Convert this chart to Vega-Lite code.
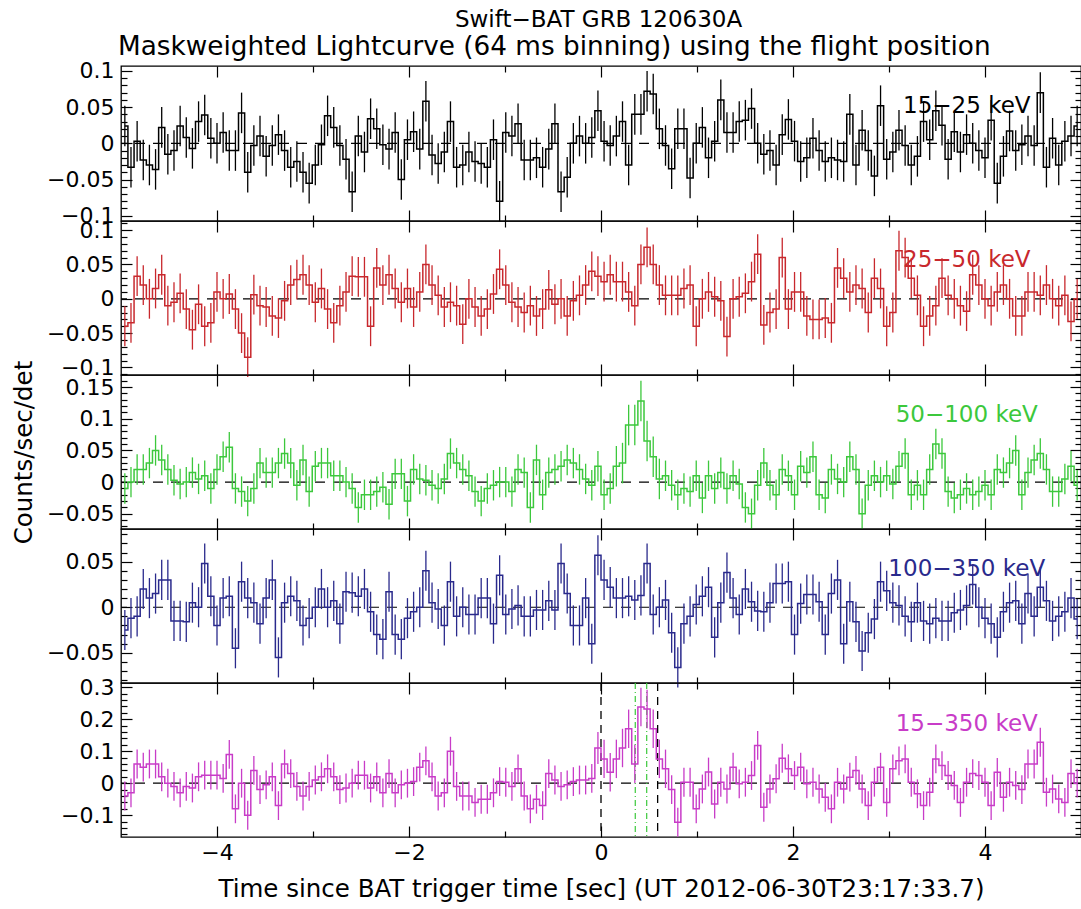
{
"$schema":"https://vega.github.io/schema/vega-lite/v6.json",
"background":"white",
"padding":{"left":10,"top":8,"right":1,"bottom":4},
"config":{
 "view":{"stroke":"black","strokeWidth":1.3},
 "font":"DejaVu Sans",
 "axis":{"domain":false,"grid":false,"tickColor":"black","tickWidth":1.2,"labelFont":"DejaVu Sans","labelFontSize":22,"labelColor":"black","titleFont":"DejaVu Sans","titleFontSize":24.5,"titleFontWeight":"normal","titleColor":"black","labelOverlap":false,"labelFlush":false},
 "title":{"font":"DejaVu Sans","fontSize":23,"fontWeight":"normal","color":"black"}
},
"title":{"text":"Swift−BAT GRB 120630A","anchor":"middle","offset":1,"dx":52},
"data":{"values":[
{"t":-4.96,"a":0.024,"b":-0.04,"c":-0.01,"d":-0.025,"e":-0.04,"ea":0.028,"eb":0.029,"ec":0.024,"ed":0.022,"ee":0.045},
{"t":-4.896,"a":-0.033,"b":-0.035,"c":0,"d":-0.012,"e":-0.03,"ea":0.028,"eb":0.029,"ec":0.024,"ed":0.022,"ee":0.045},
{"t":-4.832,"a":0.003,"b":0.033,"c":0.02,"d":-0.01,"e":0.06,"ea":0.028,"eb":0.029,"ec":0.024,"ed":0.022,"ee":0.045},
{"t":-4.768,"a":-0.023,"b":0.02,"c":0.02,"d":0.02,"e":0.05,"ea":0.028,"eb":0.029,"ec":0.024,"ed":0.022,"ee":0.045},
{"t":-4.704,"a":-0.03,"b":0,"c":0.03,"d":0.01,"e":0.06,"ea":0.028,"eb":0.029,"ec":0.024,"ed":0.022,"ee":0.045},
{"t":-4.64,"a":-0.036,"b":0.015,"c":0.05,"d":0.015,"e":0.06,"ea":0.028,"eb":0.029,"ec":0.024,"ed":0.022,"ee":0.045},
{"t":-4.576,"a":0.022,"b":0.035,"c":0.035,"d":0.03,"e":0.02,"ea":0.028,"eb":0.029,"ec":0.024,"ed":0.022,"ee":0.045},
{"t":-4.512,"a":-0.015,"b":-0.01,"c":0.02,"d":0.03,"e":0,"ea":0.028,"eb":0.029,"ec":0.024,"ed":0.022,"ee":0.045},
{"t":-4.448,"a":-0.01,"b":-0.005,"c":0.003,"d":-0.015,"e":-0.01,"ea":0.028,"eb":0.029,"ec":0.024,"ed":0.022,"ee":0.045},
{"t":-4.384,"a":0.024,"b":0.008,"c":-0.003,"d":-0.015,"e":-0.03,"ea":0.028,"eb":0.029,"ec":0.024,"ed":0.022,"ee":0.045},
{"t":-4.32,"a":0.008,"b":-0.015,"c":0,"d":-0.016,"e":-0.01,"ea":0.028,"eb":0.029,"ec":0.024,"ed":0.022,"ee":0.045},
{"t":-4.256,"a":-0.007,"b":-0.045,"c":0.015,"d":0.005,"e":-0.015,"ea":0.028,"eb":0.029,"ec":0.024,"ed":0.022,"ee":0.045},
{"t":-4.192,"a":0.03,"b":-0.008,"c":0.005,"d":0,"e":0.02,"ea":0.028,"eb":0.029,"ec":0.024,"ed":0.022,"ee":0.045},
{"t":-4.128,"a":0.039,"b":-0.04,"c":0.01,"d":0.048,"e":0.025,"ea":0.028,"eb":0.029,"ec":0.024,"ed":0.022,"ee":0.045},
{"t":-4.064,"a":0.007,"b":-0.035,"c":-0.01,"d":0.012,"e":0.025,"ea":0.028,"eb":0.029,"ec":0.024,"ed":0.022,"ee":0.045},
{"t":-4.0,"a":0,"b":0.01,"c":0.02,"d":-0.02,"e":0.025,"ea":0.028,"eb":0.029,"ec":0.024,"ed":0.022,"ee":0.045},
{"t":-3.936,"a":0.015,"b":0,"c":0.04,"d":0.01,"e":0.015,"ea":0.028,"eb":0.029,"ec":0.024,"ed":0.022,"ee":0.045},
{"t":-3.872,"a":-0.01,"b":0.007,"c":0.055,"d":0.012,"e":0.09,"ea":0.028,"eb":0.029,"ec":0.024,"ed":0.022,"ee":0.045},
{"t":-3.808,"a":-0.01,"b":-0.015,"c":-0.01,"d":-0.045,"e":-0.08,"ea":0.028,"eb":0.029,"ec":0.024,"ed":0.022,"ee":0.045},
{"t":-3.744,"a":0.042,"b":-0.05,"c":-0.015,"d":0.028,"e":0,"ea":0.028,"eb":0.029,"ec":0.024,"ed":0.022,"ee":0.045},
{"t":-3.68,"a":-0.04,"b":-0.085,"c":-0.03,"d":0.01,"e":-0.1,"ea":0.028,"eb":0.029,"ec":0.024,"ed":0.022,"ee":0.045},
{"t":-3.616,"a":-0.003,"b":0.006,"c":-0.01,"d":0.005,"e":0.04,"ea":0.028,"eb":0.029,"ec":0.024,"ed":0.022,"ee":0.045},
{"t":-3.552,"a":0.01,"b":-0.01,"c":0.03,"d":-0.018,"e":-0.02,"ea":0.028,"eb":0.029,"ec":0.024,"ed":0.022,"ee":0.045},
{"t":-3.488,"a":-0.018,"b":-0.012,"c":0.015,"d":0.01,"e":-0.005,"ea":0.028,"eb":0.029,"ec":0.024,"ed":0.022,"ee":0.045},
{"t":-3.424,"a":-0.003,"b":-0.025,"c":0.015,"d":0.03,"e":0.02,"ea":0.028,"eb":0.029,"ec":0.024,"ed":0.022,"ee":0.045},
{"t":-3.36,"a":0.012,"b":-0.028,"c":0.03,"d":-0.055,"e":-0.07,"ea":0.028,"eb":0.029,"ec":0.024,"ed":0.022,"ee":0.045},
{"t":-3.296,"a":-0.01,"b":-0.003,"c":0.045,"d":0.005,"e":0.06,"ea":0.028,"eb":0.029,"ec":0.024,"ed":0.022,"ee":0.045},
{"t":-3.232,"a":-0.033,"b":0.02,"c":0.03,"d":0.012,"e":0.03,"ea":0.028,"eb":0.029,"ec":0.024,"ed":0.022,"ee":0.045},
{"t":-3.168,"a":-0.025,"b":0.028,"c":-0.005,"d":0.007,"e":-0.01,"ea":0.028,"eb":0.029,"ec":0.024,"ed":0.022,"ee":0.045},
{"t":-3.104,"a":-0.04,"b":0.035,"c":0.035,"d":-0.02,"e":-0.04,"ea":0.028,"eb":0.029,"ec":0.024,"ed":0.022,"ee":0.045},
{"t":-3.04,"a":-0.055,"b":0.02,"c":-0.015,"d":-0.012,"e":-0.01,"ea":0.028,"eb":0.029,"ec":0.024,"ed":0.022,"ee":0.045},
{"t":-2.976,"a":-0.03,"b":-0.005,"c":0.025,"d":0,"e":0.01,"ea":0.028,"eb":0.029,"ec":0.024,"ed":0.022,"ee":0.045},
{"t":-2.912,"a":-0.002,"b":0.015,"c":0.03,"d":0.02,"e":0.02,"ea":0.028,"eb":0.029,"ec":0.024,"ed":0.022,"ee":0.045},
{"t":-2.848,"a":0.038,"b":-0.015,"c":0.03,"d":0,"e":0.045,"ea":0.028,"eb":0.029,"ec":0.024,"ed":0.022,"ee":0.045},
{"t":-2.784,"a":0.022,"b":-0.035,"c":0.01,"d":0.007,"e":0.02,"ea":0.028,"eb":0.029,"ec":0.024,"ed":0.022,"ee":0.045},
{"t":-2.72,"a":-0.003,"b":-0.01,"c":0.01,"d":-0.018,"e":-0.02,"ea":0.028,"eb":0.029,"ec":0.024,"ed":0.022,"ee":0.045},
{"t":-2.656,"a":-0.022,"b":0.01,"c":0,"d":0.017,"e":-0.015,"ea":0.028,"eb":0.029,"ec":0.024,"ed":0.022,"ee":0.045},
{"t":-2.592,"a":-0.067,"b":0.033,"c":-0.01,"d":0.016,"e":0,"ea":0.028,"eb":0.029,"ec":0.024,"ed":0.022,"ee":0.045},
{"t":-2.528,"a":0.01,"b":0.032,"c":-0.04,"d":0.012,"e":0.025,"ea":0.028,"eb":0.029,"ec":0.024,"ed":0.022,"ee":0.045},
{"t":-2.464,"a":-0.012,"b":0.032,"c":-0.02,"d":0.02,"e":0.025,"ea":0.028,"eb":0.029,"ec":0.024,"ed":0.022,"ee":0.045},
{"t":-2.4,"a":0.034,"b":-0.04,"c":-0.02,"d":-0.005,"e":-0.015,"ea":0.028,"eb":0.029,"ec":0.024,"ed":0.022,"ee":0.045},
{"t":-2.336,"a":0.02,"b":0.045,"c":-0.015,"d":-0.03,"e":0.02,"ea":0.028,"eb":0.029,"ec":0.024,"ed":0.022,"ee":0.045},
{"t":-2.272,"a":-0.002,"b":0.02,"c":-0.008,"d":-0.035,"e":-0.03,"ea":0.028,"eb":0.029,"ec":0.024,"ed":0.022,"ee":0.045},
{"t":-2.208,"a":-0.008,"b":0.035,"c":-0.035,"d":0.017,"e":0.03,"ea":0.028,"eb":0.029,"ec":0.024,"ed":0.022,"ee":0.045},
{"t":-2.144,"a":0.015,"b":0.015,"c":0.013,"d":-0.03,"e":-0.03,"ea":0.028,"eb":0.029,"ec":0.024,"ed":0.022,"ee":0.045},
{"t":-2.08,"a":-0.05,"b":-0.005,"c":0.013,"d":-0.035,"e":-0.005,"ea":0.028,"eb":0.029,"ec":0.024,"ed":0.022,"ee":0.045},
{"t":-2.016,"a":0.005,"b":0.015,"c":-0.03,"d":-0.012,"e":0,"ea":0.028,"eb":0.029,"ec":0.024,"ed":0.022,"ee":0.045},
{"t":-1.952,"a":0.016,"b":-0.012,"c":0.02,"d":-0.005,"e":0.005,"ea":0.028,"eb":0.029,"ec":0.024,"ed":0.022,"ee":0.045},
{"t":-1.888,"a":-0.008,"b":0.01,"c":0.005,"d":0,"e":0.05,"ea":0.028,"eb":0.029,"ec":0.024,"ed":0.022,"ee":0.045},
{"t":-1.824,"a":0.058,"b":0.05,"c":0.003,"d":0.04,"e":0.07,"ea":0.028,"eb":0.029,"ec":0.024,"ed":0.022,"ee":0.045},
{"t":-1.76,"a":-0.016,"b":0.02,"c":-0.005,"d":0.005,"e":0.02,"ea":0.028,"eb":0.029,"ec":0.024,"ed":0.022,"ee":0.045},
{"t":-1.696,"a":-0.028,"b":0.005,"c":-0.01,"d":-0.002,"e":-0.04,"ea":0.028,"eb":0.029,"ec":0.024,"ed":0.022,"ee":0.045},
{"t":-1.632,"a":-0.012,"b":-0.012,"c":0.005,"d":-0.02,"e":-0.03,"ea":0.028,"eb":0.029,"ec":0.024,"ed":0.022,"ee":0.045},
{"t":-1.568,"a":0.03,"b":-0.005,"c":0.045,"d":0.028,"e":0.1,"ea":0.028,"eb":0.029,"ec":0.024,"ed":0.022,"ee":0.045},
{"t":-1.504,"a":-0.033,"b":-0.01,"c":0.03,"d":-0.01,"e":-0.01,"ea":0.028,"eb":0.029,"ec":0.024,"ed":0.022,"ee":0.045},
{"t":-1.44,"a":-0.03,"b":-0.037,"c":0.02,"d":0,"e":-0.04,"ea":0.028,"eb":0.029,"ec":0.024,"ed":0.022,"ee":0.045},
{"t":-1.376,"a":-0.012,"b":0,"c":0.01,"d":-0.008,"e":-0.04,"ea":0.028,"eb":0.029,"ec":0.024,"ed":0.022,"ee":0.045},
{"t":-1.312,"a":-0.025,"b":-0.012,"c":-0.015,"d":-0.008,"e":-0.06,"ea":0.028,"eb":0.029,"ec":0.024,"ed":0.022,"ee":0.045},
{"t":-1.248,"a":-0.028,"b":-0.025,"c":-0.03,"d":0.01,"e":-0.05,"ea":0.028,"eb":0.029,"ec":0.024,"ed":0.022,"ee":0.045},
{"t":-1.184,"a":-0.033,"b":-0.015,"c":-0.01,"d":0.01,"e":-0.05,"ea":0.028,"eb":0.029,"ec":0.024,"ed":0.022,"ee":0.045},
{"t":-1.12,"a":0.005,"b":0.007,"c":-0.005,"d":-0.018,"e":-0.03,"ea":0.028,"eb":0.029,"ec":0.024,"ed":0.022,"ee":0.045},
{"t":-1.056,"a":-0.08,"b":0.043,"c":0,"d":0.035,"e":0.005,"ea":0.028,"eb":0.029,"ec":0.024,"ed":0.022,"ee":0.045},
{"t":-0.992,"a":0.015,"b":0.02,"c":0,"d":-0.008,"e":0.003,"ea":0.028,"eb":0.029,"ec":0.024,"ed":0.022,"ee":0.045},
{"t":-0.928,"a":0.01,"b":-0.005,"c":-0.015,"d":-0.002,"e":-0.01,"ea":0.028,"eb":0.029,"ec":0.024,"ed":0.022,"ee":0.045},
{"t":-0.864,"a":0.027,"b":-0.012,"c":0.02,"d":0.002,"e":0.045,"ea":0.028,"eb":0.029,"ec":0.024,"ed":0.022,"ee":0.045},
{"t":-0.8,"a":-0.023,"b":-0.02,"c":0.015,"d":-0.01,"e":-0.04,"ea":0.028,"eb":0.029,"ec":0.024,"ed":0.022,"ee":0.045},
{"t":-0.736,"a":-0.023,"b":-0.01,"c":-0.04,"d":-0.01,"e":-0.08,"ea":0.028,"eb":0.029,"ec":0.024,"ed":0.022,"ee":0.045},
{"t":-0.672,"a":-0.02,"b":-0.025,"c":0.035,"d":-0.003,"e":-0.05,"ea":0.028,"eb":0.029,"ec":0.024,"ed":0.022,"ee":0.045},
{"t":-0.608,"a":-0.033,"b":-0.015,"c":-0.02,"d":-0.003,"e":-0.07,"ea":0.028,"eb":0.029,"ec":0.024,"ed":0.022,"ee":0.045},
{"t":-0.544,"a":-0.008,"b":0.013,"c":0.015,"d":0.007,"e":0.03,"ea":0.028,"eb":0.029,"ec":0.024,"ed":0.022,"ee":0.045},
{"t":-0.48,"a":0.027,"b":-0.008,"c":0.02,"d":-0.003,"e":0.01,"ea":0.028,"eb":0.029,"ec":0.024,"ed":0.022,"ee":0.045},
{"t":-0.416,"a":-0.067,"b":0,"c":0.025,"d":0.048,"e":-0.01,"ea":0.028,"eb":0.029,"ec":0.024,"ed":0.022,"ee":0.045},
{"t":-0.352,"a":-0.047,"b":-0.025,"c":0.035,"d":0.015,"e":-0.005,"ea":0.028,"eb":0.029,"ec":0.024,"ed":0.022,"ee":0.045},
{"t":-0.288,"a":0,"b":-0.003,"c":0.03,"d":-0.02,"e":0.005,"ea":0.028,"eb":0.029,"ec":0.024,"ed":0.022,"ee":0.045},
{"t":-0.224,"a":0.01,"b":0.005,"c":0.02,"d":-0.02,"e":0.01,"ea":0.028,"eb":0.029,"ec":0.024,"ed":0.022,"ee":0.045},
{"t":-0.16,"a":0,"b":0.02,"c":0.005,"d":0.01,"e":0.01,"ea":0.028,"eb":0.029,"ec":0.024,"ed":0.022,"ee":0.045},
{"t":-0.096,"a":0.008,"b":0.04,"c":-0.005,"d":-0.04,"e":0.015,"ea":0.028,"eb":0.029,"ec":0.024,"ed":0.022,"ee":0.045},
{"t":-0.032,"a":0.045,"b":0.033,"c":0.025,"d":0.057,"e":0.11,"ea":0.028,"eb":0.029,"ec":0.024,"ed":0.022,"ee":0.05},
{"t":0.032,"a":0.003,"b":0.025,"c":-0.02,"d":0.03,"e":0.076,"ea":0.028,"eb":0.029,"ec":0.024,"ed":0.022,"ee":0.06},
{"t":0.096,"a":-0.003,"b":0.035,"c":-0.01,"d":0.022,"e":0.034,"ea":0.028,"eb":0.029,"ec":0.024,"ed":0.022,"ee":0.06},
{"t":0.16,"a":0.01,"b":0.025,"c":0.025,"d":0.01,"e":0.076,"ea":0.028,"eb":0.029,"ec":0.032,"ed":0.022,"ee":0.06},
{"t":0.224,"a":0.03,"b":0.025,"c":0.03,"d":0.01,"e":0.11,"ea":0.028,"eb":0.029,"ec":0.032,"ed":0.022,"ee":0.06},
{"t":0.288,"a":-0.03,"b":0.01,"c":0.09,"d":0.012,"e":0.17,"ea":0.028,"eb":0.029,"ec":0.032,"ed":0.022,"ee":0.06},
{"t":0.352,"a":0.04,"b":-0.01,"c":0.09,"d":0.008,"e":0.06,"ea":0.028,"eb":0.029,"ec":0.032,"ed":0.022,"ee":0.06},
{"t":0.416,"a":0.04,"b":0.05,"c":0.128,"d":0.013,"e":0.238,"ea":0.028,"eb":0.029,"ec":0.032,"ed":0.022,"ee":0.06},
{"t":0.48,"a":0.072,"b":0.075,"c":0.065,"d":0.048,"e":0.232,"ea":0.028,"eb":0.029,"ec":0.032,"ed":0.022,"ee":0.06},
{"t":0.544,"a":0.068,"b":0.05,"c":0.04,"d":-0.008,"e":0.17,"ea":0.028,"eb":0.029,"ec":0.032,"ed":0.022,"ee":0.06},
{"t":0.608,"a":0.02,"b":0.02,"c":0.005,"d":0,"e":0.076,"ea":0.028,"eb":0.029,"ec":0.032,"ed":0.022,"ee":0.06},
{"t":0.672,"a":-0.003,"b":0.005,"c":0.01,"d":0.008,"e":0.045,"ea":0.028,"eb":0.029,"ec":0.024,"ed":0.022,"ee":0.06},
{"t":0.736,"a":-0.035,"b":0.005,"c":-0.005,"d":-0.028,"e":-0.02,"ea":0.028,"eb":0.029,"ec":0.024,"ed":0.022,"ee":0.045},
{"t":0.8,"a":0.02,"b":0.005,"c":-0.02,"d":-0.066,"e":-0.122,"ea":0.028,"eb":0.029,"ec":0.024,"ed":0.022,"ee":0.045},
{"t":0.864,"a":0.02,"b":0.015,"c":-0.01,"d":-0.018,"e":0.003,"ea":0.028,"eb":0.029,"ec":0.024,"ed":0.022,"ee":0.045},
{"t":0.928,"a":-0.048,"b":0.02,"c":-0.015,"d":-0.01,"e":0.003,"ea":0.028,"eb":0.029,"ec":0.024,"ed":0.022,"ee":0.045},
{"t":0.992,"a":0,"b":-0.04,"c":0.01,"d":0.003,"e":-0.08,"ea":0.028,"eb":0.029,"ec":0.024,"ed":0.022,"ee":0.045},
{"t":1.056,"a":0.022,"b":0,"c":-0.025,"d":0.012,"e":-0.018,"ea":0.028,"eb":0.029,"ec":0.024,"ed":0.022,"ee":0.045},
{"t":1.12,"a":-0.02,"b":0.01,"c":0.01,"d":0.022,"e":0.035,"ea":0.028,"eb":0.029,"ec":0.024,"ed":0.022,"ee":0.045},
{"t":1.184,"a":0.003,"b":0.003,"c":-0.01,"d":-0.033,"e":-0.065,"ea":0.028,"eb":0.029,"ec":0.024,"ed":0.022,"ee":0.045},
{"t":1.248,"a":0.06,"b":-0.003,"c":0.015,"d":0.005,"e":0.003,"ea":0.028,"eb":0.029,"ec":0.024,"ed":0.022,"ee":0.045},
{"t":1.312,"a":0.015,"b":-0.055,"c":-0.01,"d":0.038,"e":-0.018,"ea":0.028,"eb":0.029,"ec":0.024,"ed":0.022,"ee":0.045},
{"t":1.376,"a":0.015,"b":0,"c":0.01,"d":0.01,"e":0.05,"ea":0.028,"eb":0.029,"ec":0.024,"ed":0.022,"ee":0.045},
{"t":1.44,"a":0.03,"b":0.003,"c":-0.003,"d":-0.008,"e":-0.002,"ea":0.028,"eb":0.029,"ec":0.024,"ed":0.022,"ee":0.045},
{"t":1.504,"a":0.032,"b":0.008,"c":-0.04,"d":0.02,"e":0.003,"ea":0.028,"eb":0.029,"ec":0.024,"ed":0.022,"ee":0.045},
{"t":1.568,"a":0.048,"b":0.025,"c":-0.05,"d":0.006,"e":0.024,"ea":0.028,"eb":0.029,"ec":0.024,"ed":0.022,"ee":0.045},
{"t":1.632,"a":0,"b":0.065,"c":-0.005,"d":-0.004,"e":0.118,"ea":0.028,"eb":0.029,"ec":0.024,"ed":0.022,"ee":0.045},
{"t":1.696,"a":-0.015,"b":-0.038,"c":0.03,"d":-0.005,"e":-0.075,"ea":0.028,"eb":0.029,"ec":0.024,"ed":0.022,"ee":0.045},
{"t":1.76,"a":-0.01,"b":-0.02,"c":-0.005,"d":0.005,"e":-0.018,"ea":0.028,"eb":0.029,"ec":0.024,"ed":0.022,"ee":0.045},
{"t":1.824,"a":-0.03,"b":-0.015,"c":-0.02,"d":0.026,"e":0.014,"ea":0.028,"eb":0.029,"ec":0.024,"ed":0.022,"ee":0.045},
{"t":1.888,"a":0.012,"b":0.06,"c":0.02,"d":0.026,"e":0.078,"ea":0.028,"eb":0.029,"ec":0.024,"ed":0.022,"ee":0.045},
{"t":1.952,"a":0.033,"b":-0.015,"c":0.01,"d":0.028,"e":0.045,"ea":0.028,"eb":0.029,"ec":0.024,"ed":0.022,"ee":0.045},
{"t":2.016,"a":0.003,"b":0.01,"c":-0.02,"d":-0.03,"e":0.024,"ea":0.028,"eb":0.029,"ec":0.024,"ed":0.022,"ee":0.045},
{"t":2.08,"a":-0.025,"b":0.01,"c":0.025,"d":0.004,"e":0.05,"ea":0.028,"eb":0.029,"ec":0.024,"ed":0.022,"ee":0.045},
{"t":2.144,"a":-0.02,"b":-0.025,"c":0.015,"d":0.014,"e":-0.002,"ea":0.028,"eb":0.029,"ec":0.024,"ed":0.022,"ee":0.045},
{"t":2.208,"a":0.007,"b":-0.03,"c":0.04,"d":0.014,"e":0.003,"ea":0.028,"eb":0.029,"ec":0.024,"ed":0.022,"ee":0.045},
{"t":2.272,"a":-0.01,"b":-0.03,"c":-0.02,"d":0.006,"e":-0.018,"ea":0.028,"eb":0.029,"ec":0.024,"ed":0.022,"ee":0.045},
{"t":2.336,"a":-0.025,"b":-0.028,"c":-0.025,"d":-0.03,"e":-0.044,"ea":0.028,"eb":0.029,"ec":0.024,"ed":0.022,"ee":0.045},
{"t":2.4,"a":-0.02,"b":-0.035,"c":0.02,"d":0.015,"e":-0.08,"ea":0.028,"eb":0.029,"ec":0.024,"ed":0.022,"ee":0.045},
{"t":2.464,"a":-0.023,"b":0.045,"c":0.005,"d":0.03,"e":0.003,"ea":0.028,"eb":0.029,"ec":0.024,"ed":0.022,"ee":0.045},
{"t":2.528,"a":-0.025,"b":0.03,"c":0,"d":-0.04,"e":-0.018,"ea":0.028,"eb":0.029,"ec":0.024,"ed":0.022,"ee":0.045},
{"t":2.592,"a":0.04,"b":0.01,"c":0.04,"d":0.006,"e":0.019,"ea":0.028,"eb":0.029,"ec":0.024,"ed":0.022,"ee":0.045},
{"t":2.656,"a":-0.03,"b":0.02,"c":0.02,"d":-0.016,"e":0.04,"ea":0.028,"eb":0.029,"ec":0.024,"ed":0.022,"ee":0.045},
{"t":2.72,"a":0.018,"b":0.015,"c":-0.05,"d":-0.048,"e":-0.018,"ea":0.028,"eb":0.029,"ec":0.024,"ed":0.022,"ee":0.045},
{"t":2.784,"a":-0.01,"b":-0.02,"c":-0.005,"d":-0.028,"e":-0.07,"ea":0.028,"eb":0.029,"ec":0.024,"ed":0.022,"ee":0.045},
{"t":2.848,"a":-0.045,"b":0.03,"c":0.01,"d":-0.013,"e":0.003,"ea":0.028,"eb":0.029,"ec":0.024,"ed":0.022,"ee":0.045},
{"t":2.912,"a":0.052,"b":0.015,"c":0,"d":0.028,"e":0.05,"ea":0.028,"eb":0.029,"ec":0.024,"ed":0.022,"ee":0.045},
{"t":2.976,"a":-0.022,"b":-0.04,"c":0.01,"d":0.018,"e":-0.06,"ea":0.028,"eb":0.029,"ec":0.024,"ed":0.022,"ee":0.045},
{"t":3.04,"a":-0.012,"b":-0.02,"c":-0.003,"d":0.005,"e":0.045,"ea":0.028,"eb":0.029,"ec":0.024,"ed":0.022,"ee":0.045},
{"t":3.104,"a":0.018,"b":0.07,"c":0.025,"d":0.002,"e":0.07,"ea":0.028,"eb":0.029,"ec":0.024,"ed":0.022,"ee":0.045},
{"t":3.168,"a":-0.003,"b":0.06,"c":0.045,"d":-0.01,"e":0.076,"ea":0.028,"eb":0.029,"ec":0.024,"ed":0.022,"ee":0.045},
{"t":3.232,"a":-0.03,"b":0.03,"c":-0.02,"d":-0.016,"e":0.003,"ea":0.028,"eb":0.029,"ec":0.024,"ed":0.022,"ee":0.045},
{"t":3.296,"a":-0.018,"b":0.005,"c":-0.005,"d":0.005,"e":-0.033,"ea":0.028,"eb":0.029,"ec":0.024,"ed":0.022,"ee":0.045},
{"t":3.36,"a":0.03,"b":-0.04,"c":-0.02,"d":-0.015,"e":-0.07,"ea":0.028,"eb":0.029,"ec":0.024,"ed":0.022,"ee":0.045},
{"t":3.424,"a":0.005,"b":-0.025,"c":0.02,"d":-0.018,"e":-0.028,"ea":0.028,"eb":0.029,"ec":0.024,"ed":0.022,"ee":0.045},
{"t":3.488,"a":0.045,"b":-0.01,"c":0.06,"d":-0.012,"e":0.076,"ea":0.028,"eb":0.029,"ec":0.024,"ed":0.022,"ee":0.045},
{"t":3.552,"a":0.025,"b":0.03,"c":0.045,"d":-0.015,"e":0.055,"ea":0.028,"eb":0.029,"ec":0.024,"ed":0.022,"ee":0.045},
{"t":3.616,"a":-0.022,"b":0.005,"c":-0.015,"d":-0.015,"e":0.024,"ea":0.028,"eb":0.029,"ec":0.024,"ed":0.022,"ee":0.045},
{"t":3.68,"a":0.016,"b":0,"c":-0.025,"d":-0.006,"e":-0.007,"ea":0.028,"eb":0.029,"ec":0.024,"ed":0.022,"ee":0.045},
{"t":3.744,"a":-0.012,"b":-0.01,"c":-0.02,"d":-0.003,"e":-0.06,"ea":0.028,"eb":0.029,"ec":0.024,"ed":0.022,"ee":0.045},
{"t":3.808,"a":0.012,"b":-0.018,"c":-0.01,"d":0.002,"e":0.003,"ea":0.028,"eb":0.029,"ec":0.024,"ed":0.022,"ee":0.045},
{"t":3.872,"a":0,"b":0.035,"c":-0.02,"d":0.025,"e":0.03,"ea":0.028,"eb":0.029,"ec":0.024,"ed":0.022,"ee":0.045},
{"t":3.936,"a":-0.01,"b":0.02,"c":-0.015,"d":0,"e":0.024,"ea":0.028,"eb":0.029,"ec":0.024,"ed":0.022,"ee":0.045},
{"t":4.0,"a":-0.02,"b":0,"c":-0.005,"d":-0.012,"e":0.003,"ea":0.028,"eb":0.029,"ec":0.024,"ed":0.022,"ee":0.045},
{"t":4.064,"a":0.032,"b":-0.01,"c":-0.02,"d":-0.018,"e":-0.07,"ea":0.028,"eb":0.029,"ec":0.024,"ed":0.022,"ee":0.045},
{"t":4.128,"a":-0.055,"b":0.01,"c":0.02,"d":-0.033,"e":0.034,"ea":0.028,"eb":0.029,"ec":0.024,"ed":0.022,"ee":0.045},
{"t":4.192,"a":-0.018,"b":0.02,"c":0.015,"d":-0.005,"e":-0.044,"ea":0.028,"eb":0.029,"ec":0.024,"ed":0.022,"ee":0.045},
{"t":4.256,"a":0.017,"b":0,"c":0.03,"d":0.005,"e":0.003,"ea":0.028,"eb":0.029,"ec":0.024,"ed":0.022,"ee":0.045},
{"t":4.32,"a":-0.01,"b":-0.025,"c":0.05,"d":0.007,"e":-0.007,"ea":0.028,"eb":0.029,"ec":0.024,"ed":0.022,"ee":0.045},
{"t":4.384,"a":-0.002,"b":-0.025,"c":-0.02,"d":-0.018,"e":-0.02,"ea":0.028,"eb":0.029,"ec":0.024,"ed":0.022,"ee":0.045},
{"t":4.448,"a":0.01,"b":0.01,"c":0.015,"d":0.015,"e":0.06,"ea":0.028,"eb":0.029,"ec":0.024,"ed":0.022,"ee":0.045},
{"t":4.512,"a":-0.003,"b":0.01,"c":0.035,"d":-0.01,"e":0.06,"ea":0.028,"eb":0.029,"ec":0.024,"ed":0.022,"ee":0.045},
{"t":4.576,"a":0.07,"b":0.005,"c":0.045,"d":0.022,"e":0.128,"ea":0.028,"eb":0.029,"ec":0.024,"ed":0.022,"ee":0.045},
{"t":4.64,"a":-0.033,"b":0.02,"c":0.02,"d":0.007,"e":-0.028,"ea":0.028,"eb":0.029,"ec":0.024,"ed":0.022,"ee":0.045},
{"t":4.704,"a":0.007,"b":0,"c":-0.015,"d":-0.015,"e":-0.018,"ea":0.028,"eb":0.029,"ec":0.024,"ed":0.022,"ee":0.045},
{"t":4.768,"a":-0.03,"b":-0.01,"c":-0.015,"d":-0.01,"e":-0.049,"ea":0.028,"eb":0.029,"ec":0.024,"ed":0.022,"ee":0.045},
{"t":4.832,"a":0.003,"b":0.005,"c":0.005,"d":-0.005,"e":-0.06,"ea":0.028,"eb":0.029,"ec":0.024,"ed":0.022,"ee":0.045},
{"t":4.896,"a":0.01,"b":-0.033,"c":0.025,"d":0.01,"e":0.03,"ea":0.028,"eb":0.029,"ec":0.024,"ed":0.022,"ee":0.045},
{"t":4.96,"a":0.024,"b":0,"c":-0.005,"d":-0.013,"e":0,"ea":0.028,"eb":0.029,"ec":0.024,"ed":0.022,"ee":0.045}
]},
"spacing":0,
"bounds":"flush",
"vconcat":[
{
 "width":960,"height":155,
 "title":{"text":"Maskweighted Lightcurve (64 ms binning) using the flight position","anchor":"start","frame":"group","offset":0,"dx":-3,"fontSize":26.3},
 "resolve":{"axis":{"x":"independent","y":"independent"}},
 "layer":[
  {"data":{"values":[{"z":0}]},"mark":{"type":"rule","strokeDash":[10,8],"color":"black","strokeWidth":1.2},"encoding":{"y":{"field":"z","type":"quantitative","axis":null}}},
  {"mark":{"type":"errorbar","color":"#000000","thickness":1.3},"encoding":{"x":{"field":"t","type":"quantitative","axis":null},"y":{"field":"a","type":"quantitative","axis":null},"yError":{"field":"ea"}}},
  {"mark":{"type":"line","interpolate":"step","color":"#000000","strokeWidth":1.5},"encoding":{
    "x":{"field":"t","type":"quantitative","scale":{"domain":[-5,5],"nice":false,"zero":false},"axis":{"orient":"bottom","values":[-4,-2,0,2,4],"tickSize":-11,"labels":false,"title":null}},
    "y":{"field":"a","type":"quantitative","scale":{"domain":[-0.1073,0.1068],"nice":false,"zero":false},"axis":{"orient":"left","values":[-0.1,-0.05,0,0.05,0.1],"tickSize":-11,"labelPadding":18,"format":"~g","title":null}}}},
  {"mark":{"type":"point","opacity":0},"encoding":{"x":{"field":"t","type":"quantitative","axis":{"orient":"top","values":[-4,-2,0,2,4],"tickSize":-11,"labels":false,"title":null}},"y":{"field":"a","type":"quantitative","axis":{"orient":"right","values":[-0.1,-0.05,0,0.05,0.1],"tickSize":-11,"labels":false,"title":null}}}},
  {"mark":{"type":"point","opacity":0},"encoding":{"x":{"field":"t","type":"quantitative","axis":{"orient":"bottom","values":[-3,-1,1,3],"tickSize":-6,"labels":false,"title":null}},"y":{"field":"a","type":"quantitative","axis":{"orient":"left","values":[-0.09,-0.08,-0.07,-0.06,-0.04,-0.03,-0.02,-0.01,0.01,0.02,0.03,0.04,0.06,0.07,0.08,0.09],"tickSize":-6,"labels":false,"title":null}}}},
  {"mark":{"type":"point","opacity":0},"encoding":{"x":{"field":"t","type":"quantitative","axis":{"orient":"top","values":[-3,-1,1,3],"tickSize":-6,"labels":false,"title":null}},"y":{"field":"a","type":"quantitative","axis":{"orient":"right","values":[-0.09,-0.08,-0.07,-0.06,-0.04,-0.03,-0.02,-0.01,0.01,0.02,0.03,0.04,0.06,0.07,0.08,0.09],"tickSize":-6,"labels":false,"title":null}}}},
  {"data":{"values":[{"label":"15−25 keV"}]},"mark":{"type":"text","color":"#000000","fontSize":23,"font":"DejaVu Sans","align":"center","baseline":"middle"},"encoding":{"x":{"datum":3.81,"type":"quantitative","axis":null},"y":{"datum":0.0515,"type":"quantitative","axis":null},"text":{"field":"label"}}}
 ]
},
{
 "width":960,"height":154,
 "resolve":{"axis":{"x":"independent","y":"independent"}},
 "layer":[
  {"data":{"values":[{"z":0}]},"mark":{"type":"rule","strokeDash":[10,8],"color":"black","strokeWidth":1.2},"encoding":{"y":{"field":"z","type":"quantitative","axis":null}}},
  {"mark":{"type":"errorbar","color":"#c8282d","thickness":1.3},"encoding":{"x":{"field":"t","type":"quantitative","axis":null},"y":{"field":"b","type":"quantitative","axis":null},"yError":{"field":"eb"}}},
  {"mark":{"type":"line","interpolate":"step","color":"#c8282d","strokeWidth":1.5},"encoding":{
    "x":{"field":"t","type":"quantitative","scale":{"domain":[-5,5],"nice":false,"zero":false},"axis":{"orient":"bottom","values":[-4,-2,0,2,4],"tickSize":-11,"labels":false,"title":null}},
    "y":{"field":"b","type":"quantitative","scale":{"domain":[-0.111,0.1133],"nice":false,"zero":false},"axis":{"orient":"left","values":[-0.1,-0.05,0,0.05,0.1],"tickSize":-11,"labelPadding":18,"format":"~g","title":null}}}},
  {"mark":{"type":"point","opacity":0},"encoding":{"x":{"field":"t","type":"quantitative","axis":{"orient":"top","values":[-4,-2,0,2,4],"tickSize":-11,"labels":false,"title":null}},"y":{"field":"b","type":"quantitative","axis":{"orient":"right","values":[-0.1,-0.05,0,0.05,0.1],"tickSize":-11,"labels":false,"title":null}}}},
  {"mark":{"type":"point","opacity":0},"encoding":{"x":{"field":"t","type":"quantitative","axis":{"orient":"bottom","values":[-3,-1,1,3],"tickSize":-6,"labels":false,"title":null}},"y":{"field":"b","type":"quantitative","axis":{"orient":"left","values":[-0.11,-0.09,-0.08,-0.07,-0.06,-0.04,-0.03,-0.02,-0.01,0.01,0.02,0.03,0.04,0.06,0.07,0.08,0.09,0.11],"tickSize":-6,"labels":false,"title":null}}}},
  {"mark":{"type":"point","opacity":0},"encoding":{"x":{"field":"t","type":"quantitative","axis":{"orient":"top","values":[-3,-1,1,3],"tickSize":-6,"labels":false,"title":null}},"y":{"field":"b","type":"quantitative","axis":{"orient":"right","values":[-0.11,-0.09,-0.08,-0.07,-0.06,-0.04,-0.03,-0.02,-0.01,0.01,0.02,0.03,0.04,0.06,0.07,0.08,0.09,0.11],"tickSize":-6,"labels":false,"title":null}}}},
  {"data":{"values":[{"label":"25−50 keV"}]},"mark":{"type":"text","color":"#c8282d","fontSize":23,"font":"DejaVu Sans","align":"center","baseline":"middle"},"encoding":{"x":{"datum":3.81,"type":"quantitative","axis":null},"y":{"datum":0.056,"type":"quantitative","axis":null},"text":{"field":"label"}}}
 ]
},
{
 "width":960,"height":154,
 "resolve":{"axis":{"x":"independent","y":"independent"}},
 "layer":[
  {"data":{"values":[{"z":0}]},"mark":{"type":"rule","strokeDash":[10,8],"color":"black","strokeWidth":1.2},"encoding":{"y":{"field":"z","type":"quantitative","axis":null}}},
  {"mark":{"type":"errorbar","color":"#3cc83c","thickness":1.3},"encoding":{"x":{"field":"t","type":"quantitative","axis":null},"y":{"field":"c","type":"quantitative","axis":null},"yError":{"field":"ec"}}},
  {"mark":{"type":"line","interpolate":"step","color":"#3cc83c","strokeWidth":1.5},"encoding":{
    "x":{"field":"t","type":"quantitative","scale":{"domain":[-5,5],"nice":false,"zero":false},"axis":{"orient":"bottom","values":[-4,-2,0,2,4],"tickSize":-11,"labels":false,"title":null}},
    "y":{"field":"c","type":"quantitative","scale":{"domain":[-0.074,0.169],"nice":false,"zero":false},"axis":{"orient":"left","values":[-0.05,0,0.05,0.1,0.15],"tickSize":-11,"labelPadding":18,"format":"~g","title":"Counts/sec/det","titlePadding":10}}}},
  {"mark":{"type":"point","opacity":0},"encoding":{"x":{"field":"t","type":"quantitative","axis":{"orient":"top","values":[-4,-2,0,2,4],"tickSize":-11,"labels":false,"title":null}},"y":{"field":"c","type":"quantitative","axis":{"orient":"right","values":[-0.05,0,0.05,0.1,0.15],"tickSize":-11,"labels":false,"title":null}}}},
  {"mark":{"type":"point","opacity":0},"encoding":{"x":{"field":"t","type":"quantitative","axis":{"orient":"bottom","values":[-3,-1,1,3],"tickSize":-6,"labels":false,"title":null}},"y":{"field":"c","type":"quantitative","axis":{"orient":"left","values":[-0.07,-0.06,-0.04,-0.03,-0.02,-0.01,0.01,0.02,0.03,0.04,0.06,0.07,0.08,0.09,0.11,0.12,0.13,0.14,0.16],"tickSize":-6,"labels":false,"title":null}}}},
  {"mark":{"type":"point","opacity":0},"encoding":{"x":{"field":"t","type":"quantitative","axis":{"orient":"top","values":[-3,-1,1,3],"tickSize":-6,"labels":false,"title":null}},"y":{"field":"c","type":"quantitative","axis":{"orient":"right","values":[-0.07,-0.06,-0.04,-0.03,-0.02,-0.01,0.01,0.02,0.03,0.04,0.06,0.07,0.08,0.09,0.11,0.12,0.13,0.14,0.16],"tickSize":-6,"labels":false,"title":null}}}},
  {"data":{"values":[{"label":"50−100 keV"}]},"mark":{"type":"text","color":"#3cc83c","fontSize":23,"font":"DejaVu Sans","align":"center","baseline":"middle"},"encoding":{"x":{"datum":3.81,"type":"quantitative","axis":null},"y":{"datum":0.106,"type":"quantitative","axis":null},"text":{"field":"label"}}}
 ]
},
{
 "width":960,"height":154,
 "resolve":{"axis":{"x":"independent","y":"independent"}},
 "layer":[
  {"data":{"values":[{"z":0}]},"mark":{"type":"rule","strokeDash":[10,8],"color":"black","strokeWidth":1.2},"encoding":{"y":{"field":"z","type":"quantitative","axis":null}}},
  {"mark":{"type":"errorbar","color":"#2a2a8c","thickness":1.3},"encoding":{"x":{"field":"t","type":"quantitative","axis":null},"y":{"field":"d","type":"quantitative","axis":null},"yError":{"field":"ed"}}},
  {"mark":{"type":"line","interpolate":"step","color":"#2a2a8c","strokeWidth":1.5},"encoding":{
    "x":{"field":"t","type":"quantitative","scale":{"domain":[-5,5],"nice":false,"zero":false},"axis":{"orient":"bottom","values":[-4,-2,0,2,4],"tickSize":-11,"labels":false,"title":null}},
    "y":{"field":"d","type":"quantitative","scale":{"domain":[-0.0831,0.0858],"nice":false,"zero":false},"axis":{"orient":"left","values":[-0.05,0,0.05],"tickSize":-11,"labelPadding":18,"format":"~g","title":null}}}},
  {"mark":{"type":"point","opacity":0},"encoding":{"x":{"field":"t","type":"quantitative","axis":{"orient":"top","values":[-4,-2,0,2,4],"tickSize":-11,"labels":false,"title":null}},"y":{"field":"d","type":"quantitative","axis":{"orient":"right","values":[-0.05,0,0.05],"tickSize":-11,"labels":false,"title":null}}}},
  {"mark":{"type":"point","opacity":0},"encoding":{"x":{"field":"t","type":"quantitative","axis":{"orient":"bottom","values":[-3,-1,1,3],"tickSize":-6,"labels":false,"title":null}},"y":{"field":"d","type":"quantitative","axis":{"orient":"left","values":[-0.08,-0.07,-0.06,-0.04,-0.03,-0.02,-0.01,0.01,0.02,0.03,0.04,0.06,0.07,0.08],"tickSize":-6,"labels":false,"title":null}}}},
  {"mark":{"type":"point","opacity":0},"encoding":{"x":{"field":"t","type":"quantitative","axis":{"orient":"top","values":[-3,-1,1,3],"tickSize":-6,"labels":false,"title":null}},"y":{"field":"d","type":"quantitative","axis":{"orient":"right","values":[-0.08,-0.07,-0.06,-0.04,-0.03,-0.02,-0.01,0.01,0.02,0.03,0.04,0.06,0.07,0.08],"tickSize":-6,"labels":false,"title":null}}}},
  {"data":{"values":[{"label":"100−350 keV"}]},"mark":{"type":"text","color":"#2a2a8c","fontSize":23,"font":"DejaVu Sans","align":"center","baseline":"middle"},"encoding":{"x":{"datum":3.81,"type":"quantitative","axis":null},"y":{"datum":0.042,"type":"quantitative","axis":null},"text":{"field":"label"}}}
 ]
},
{
 "width":960,"height":154,
 "resolve":{"axis":{"x":"independent","y":"independent"}},
 "layer":[
  {"data":{"values":[{"z":0}]},"mark":{"type":"rule","strokeDash":[10,8],"color":"black","strokeWidth":1.2},"encoding":{"y":{"field":"z","type":"quantitative","axis":null}}},
  {"data":{"values":[{"tm":0},{"tm":0.59}]},"mark":{"type":"rule","strokeDash":[8,6],"color":"black","strokeWidth":1.3},"encoding":{"x":{"field":"tm","type":"quantitative","axis":null}}},
  {"data":{"values":[{"tm":0.357},{"tm":0.476}]},"mark":{"type":"rule","strokeDash":[6,3,1,3],"color":"#3cc83c","strokeWidth":1.2},"encoding":{"x":{"field":"tm","type":"quantitative","axis":null}}},
  {"mark":{"type":"errorbar","color":"#c83cc8","thickness":1.3},"encoding":{"x":{"field":"t","type":"quantitative","axis":null},"y":{"field":"e","type":"quantitative","axis":null},"yError":{"field":"ee"}}},
  {"mark":{"type":"line","interpolate":"step","color":"#c83cc8","strokeWidth":1.5},"encoding":{
    "x":{"field":"t","type":"quantitative","scale":{"domain":[-5,5],"nice":false,"zero":false},"axis":{"orient":"bottom","values":[-4,-2,0,2,4],"tickSize":-11,"labelPadding":16,"title":"Time since BAT trigger time [sec] (UT 2012-06-30T23:17:33.7)","titlePadding":14}},
    "y":{"field":"e","type":"quantitative","scale":{"domain":[-0.168,0.313],"nice":false,"zero":false},"axis":{"orient":"left","values":[-0.1,0,0.1,0.2,0.3],"tickSize":-11,"labelPadding":18,"format":"~g","title":null}}}},
  {"mark":{"type":"point","opacity":0},"encoding":{"x":{"field":"t","type":"quantitative","axis":{"orient":"top","values":[-4,-2,0,2,4],"tickSize":-11,"labels":false,"title":null}},"y":{"field":"e","type":"quantitative","axis":{"orient":"right","values":[-0.1,0,0.1,0.2,0.3],"tickSize":-11,"labels":false,"title":null}}}},
  {"mark":{"type":"point","opacity":0},"encoding":{"x":{"field":"t","type":"quantitative","axis":{"orient":"bottom","values":[-3,-1,1,3],"tickSize":-6,"labels":false,"title":null}},"y":{"field":"e","type":"quantitative","axis":{"orient":"left","values":[-0.16,-0.14,-0.12,-0.08,-0.06,-0.04,-0.02,0.02,0.04,0.06,0.08,0.12,0.14,0.16,0.18,0.22,0.24,0.26,0.28],"tickSize":-6,"labels":false,"title":null}}}},
  {"mark":{"type":"point","opacity":0},"encoding":{"x":{"field":"t","type":"quantitative","axis":{"orient":"top","values":[-3,-1,1,3],"tickSize":-6,"labels":false,"title":null}},"y":{"field":"e","type":"quantitative","axis":{"orient":"right","values":[-0.16,-0.14,-0.12,-0.08,-0.06,-0.04,-0.02,0.02,0.04,0.06,0.08,0.12,0.14,0.16,0.18,0.22,0.24,0.26,0.28],"tickSize":-6,"labels":false,"title":null}}}},
  {"data":{"values":[{"label":"15−350 keV"}]},"mark":{"type":"text","color":"#c83cc8","fontSize":23,"font":"DejaVu Sans","align":"center","baseline":"middle"},"encoding":{"x":{"datum":3.81,"type":"quantitative","axis":null},"y":{"datum":0.185,"type":"quantitative","axis":null},"text":{"field":"label"}}}
 ]
}
]
}
